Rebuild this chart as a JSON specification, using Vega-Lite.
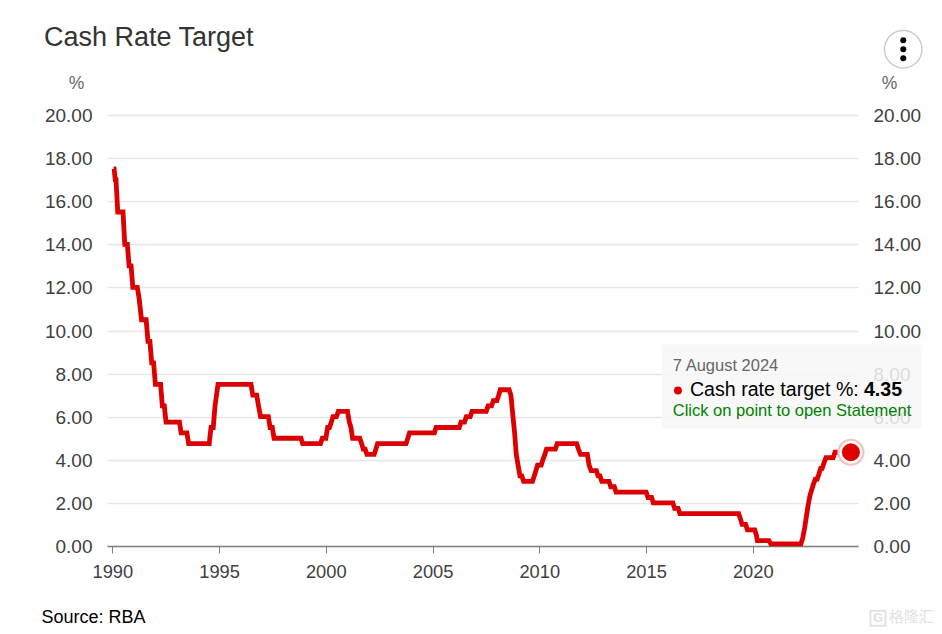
{
"$schema":"https://vega.github.io/schema/vega-lite/v6.json",
"autosize":{"type":"none"},
"width":751,"height":431,
"padding":{"left":107,"top":115,"right":84,"bottom":88},
"background":"white",
"config":{"font":"Liberation Sans","view":{"stroke":null}},
"title":{"text":"Cash Rate Target","anchor":"start","frame":"group","dx":-63,"dy":57,"offset":33,"fontSize":27,"fontWeight":"normal","color":"#333333"},
"resolve":{"scale":{"y":"independent"}},
"layer":[
{
"data":{"values":[
{"d":"1990-01-23","v":17.5},{"d":"1990-02-01","v":17.5},{"d":"1990-02-20","v":17.0},{"d":"1990-03-05","v":17.0},{"d":"1990-04-04","v":15.5},{"d":"1990-07-03","v":15.5},{"d":"1990-08-02","v":14.0},{"d":"1990-09-15","v":14.0},{"d":"1990-10-15","v":13.0},{"d":"1990-11-18","v":13.0},{"d":"1990-12-18","v":12.0},{"d":"1991-03-04","v":12.0},{"d":"1991-04-04","v":11.5},{"d":"1991-05-16","v":10.5},{"d":"1991-08-03","v":10.5},{"d":"1991-09-03","v":9.5},{"d":"1991-10-06","v":9.5},{"d":"1991-11-06","v":8.5},{"d":"1991-12-08","v":8.5},{"d":"1992-01-08","v":7.5},{"d":"1992-04-06","v":7.5},{"d":"1992-05-06","v":6.5},{"d":"1992-06-08","v":6.5},{"d":"1992-07-08","v":5.75},{"d":"1993-02-23","v":5.75},{"d":"1993-03-23","v":5.25},{"d":"1993-06-30","v":5.25},{"d":"1993-07-30","v":4.75},{"d":"1994-07-17","v":4.75},{"d":"1994-08-17","v":5.5},{"d":"1994-09-24","v":5.5},{"d":"1994-10-24","v":6.5},{"d":"1994-12-14","v":7.5},{"d":"1996-07-01","v":7.5},{"d":"1996-07-31","v":7.0},{"d":"1996-10-06","v":7.0},{"d":"1996-11-06","v":6.5},{"d":"1996-12-11","v":6.0},{"d":"1997-04-23","v":6.0},{"d":"1997-05-23","v":5.5},{"d":"1997-06-30","v":5.5},{"d":"1997-07-30","v":5.0},{"d":"1998-11-02","v":5.0},{"d":"1998-12-02","v":4.75},{"d":"1999-10-03","v":4.75},{"d":"1999-11-03","v":5.0},{"d":"2000-01-02","v":5.0},{"d":"2000-02-02","v":5.5},{"d":"2000-03-05","v":5.5},{"d":"2000-04-05","v":5.75},{"d":"2000-05-03","v":6.0},{"d":"2000-07-02","v":6.0},{"d":"2000-08-02","v":6.25},{"d":"2001-01-07","v":6.25},{"d":"2001-02-07","v":5.75},{"d":"2001-03-07","v":5.5},{"d":"2001-04-04","v":5.0},{"d":"2001-08-05","v":5.0},{"d":"2001-09-05","v":4.75},{"d":"2001-10-03","v":4.5},{"d":"2001-11-05","v":4.5},{"d":"2001-12-05","v":4.25},{"d":"2002-04-08","v":4.25},{"d":"2002-05-08","v":4.5},{"d":"2002-06-05","v":4.75},{"d":"2003-10-05","v":4.75},{"d":"2003-11-05","v":5.0},{"d":"2003-12-03","v":5.25},{"d":"2005-02-02","v":5.25},{"d":"2005-03-02","v":5.5},{"d":"2006-04-03","v":5.5},{"d":"2006-05-03","v":5.75},{"d":"2006-07-02","v":5.75},{"d":"2006-08-02","v":6.0},{"d":"2006-10-08","v":6.0},{"d":"2006-11-08","v":6.25},{"d":"2007-07-08","v":6.25},{"d":"2007-08-08","v":6.5},{"d":"2007-10-07","v":6.5},{"d":"2007-11-07","v":6.75},{"d":"2008-01-06","v":6.75},{"d":"2008-02-06","v":7.0},{"d":"2008-03-05","v":7.25},{"d":"2008-08-03","v":7.25},{"d":"2008-09-03","v":7.0},{"d":"2008-10-08","v":6.0},{"d":"2008-11-05","v":5.25},{"d":"2008-12-03","v":4.25},{"d":"2009-02-04","v":3.25},{"d":"2009-03-08","v":3.25},{"d":"2009-04-08","v":3.0},{"d":"2009-09-07","v":3.0},{"d":"2009-10-07","v":3.25},{"d":"2009-11-04","v":3.5},{"d":"2009-12-02","v":3.75},{"d":"2010-02-03","v":3.75},{"d":"2010-03-03","v":4.0},{"d":"2010-04-07","v":4.25},{"d":"2010-05-05","v":4.5},{"d":"2010-10-03","v":4.5},{"d":"2010-11-03","v":4.75},{"d":"2011-10-02","v":4.75},{"d":"2011-11-02","v":4.5},{"d":"2011-12-07","v":4.25},{"d":"2012-04-02","v":4.25},{"d":"2012-05-02","v":3.75},{"d":"2012-06-06","v":3.5},{"d":"2012-09-03","v":3.5},{"d":"2012-10-03","v":3.25},{"d":"2012-11-05","v":3.25},{"d":"2012-12-05","v":3.0},{"d":"2013-04-08","v":3.0},{"d":"2013-05-08","v":2.75},{"d":"2013-07-07","v":2.75},{"d":"2013-08-07","v":2.5},{"d":"2015-01-04","v":2.5},{"d":"2015-02-04","v":2.25},{"d":"2015-04-06","v":2.25},{"d":"2015-05-06","v":2.0},{"d":"2016-04-04","v":2.0},{"d":"2016-05-04","v":1.75},{"d":"2016-07-03","v":1.75},{"d":"2016-08-03","v":1.5},{"d":"2019-05-05","v":1.5},{"d":"2019-06-05","v":1.25},{"d":"2019-07-03","v":1.0},{"d":"2019-09-02","v":1.0},{"d":"2019-10-02","v":0.75},{"d":"2020-02-04","v":0.75},{"d":"2020-03-04","v":0.5},{"d":"2020-03-20","v":0.25},{"d":"2020-10-04","v":0.25},{"d":"2020-11-04","v":0.1},{"d":"2022-04-04","v":0.1},{"d":"2022-05-04","v":0.35},{"d":"2022-06-08","v":0.85},{"d":"2022-07-06","v":1.35},{"d":"2022-08-03","v":1.85},{"d":"2022-09-07","v":2.35},{"d":"2022-10-05","v":2.6},{"d":"2022-11-02","v":2.85},{"d":"2022-12-07","v":3.1},{"d":"2023-01-08","v":3.1},{"d":"2023-02-08","v":3.35},{"d":"2023-03-08","v":3.6},{"d":"2023-04-03","v":3.6},{"d":"2023-05-03","v":3.85},{"d":"2023-06-07","v":4.1},{"d":"2023-10-08","v":4.1},{"d":"2023-11-08","v":4.35},{"d":"2024-08-07","v":4.35}
]},
"mark":{"type":"line","color":"#dc0000","strokeWidth":4.8,"strokeJoin":"miter","interpolate":"linear"},
"encoding":{
"x":{"field":"d","type":"temporal","scale":{"domain":["1989-10-02","2024-12-06"],"nice":false},
"axis":{"format":"%Y","tickCount":{"interval":"year","step":5},"grid":false,"labelFontSize":18.3,"labelColor":"#404040","labelPadding":10,"tickSize":7,"tickColor":"#808080","tickWidth":1,"domainColor":"#808080","domainWidth":1.5,"labelFlush":false,"labelOverlap":false,
"title":"Source: RBA","titleFontSize":18,"titleFontWeight":"normal","titleColor":"#000000","titleX":-66,"titleY":62,"titleAlign":"left","titleAnchor":"start"}},
"y":{"field":"v","type":"quantitative","scale":{"domain":[0,20],"nice":false},
"axis":{"orient":"left","values":[0,2,4,6,8,10,12,14,16,18,20],"format":".2f","grid":true,"gridColor":"#e6e6e6","gridWidth":1.5,"domain":false,"ticks":false,"labelFontSize":19,"labelColor":"#404040","labelPadding":15,"labelOffset":0.5,
"title":"%","titleAngle":0,"titleFontSize":17.5,"titleFontWeight":"normal","titleColor":"#666666","titleX":-31,"titleY":-23,"titleAlign":"center"}}
}
},
{
"encoding":{
"y":{"field":"y","type":"quantitative","scale":{"domain":[0,20],"nice":false},
"axis":{"orient":"right","values":[0,2,4,6,8,10,12,14,16,18,20],"format":".2f","grid":false,"domain":false,"ticks":false,"labelFontSize":19,"labelColor":"#404040","labelPadding":15,"labelOffset":0.5,
"title":"%","titleAngle":0,"titleFontSize":17.5,"titleFontWeight":"normal","titleColor":"#666666","titleX":31,"titleY":-23,"titleAlign":"center"}}
},
"layer":[
{"data":{"values":[{"x":"2024-08-07","y":4.35}]},
 "mark":{"type":"point","filled":false,"fill":"white","fillOpacity":1,"stroke":"#f4c0c0","strokeWidth":2.2,"size":625,"opacity":1},
 "encoding":{"x":{"field":"x","type":"temporal"}}},
{"data":{"values":[{"x":"2024-08-07","y":4.35}]},
 "mark":{"type":"point","filled":true,"color":"#dc0000","size":324,"opacity":1},
 "encoding":{"x":{"field":"x","type":"temporal"}}},
{"data":{"values":[{"x":"2015-09-30","x2":"2027-12-01","y":9.35,"y2":5.44}]},
 "mark":{"type":"rect","color":"#f7f7f7","opacity":0.85},
 "encoding":{"x":{"field":"x","type":"temporal"},"x2":{"field":"x2"},"y2":{"field":"y2"}}},
{"data":{"values":[{"x":"2016-06-30","y":7.22}]},
 "mark":{"type":"point","filled":true,"color":"#dc0000","size":64,"opacity":1},
 "encoding":{"x":{"field":"x","type":"temporal"}}},
{"data":{"values":[{"x":"2016-04-03","y":8.37,"label":"7 August 2024"}]},
 "mark":{"type":"text","align":"left","baseline":"middle","fontSize":16.5,"color":"#666666"},
 "encoding":{"x":{"field":"x","type":"temporal"},"text":{"field":"label"}}},
{"data":{"values":[{"x":"2017-01-22","y":7.25,"label":"Cash rate target %:"}]},
 "mark":{"type":"text","align":"left","baseline":"middle","fontSize":19.6,"color":"#000000"},
 "encoding":{"x":{"field":"x","type":"temporal"},"text":{"field":"label"}}},
{"data":{"values":[{"x":"2025-03-17","y":7.25,"label":"4.35"}]},
 "mark":{"type":"text","align":"left","baseline":"middle","fontSize":19.6,"fontWeight":"bold","color":"#000000"},
 "encoding":{"x":{"field":"x","type":"temporal"},"text":{"field":"label"}}},
{"data":{"values":[{"x":"2016-04-03","y":6.25,"label":"Click on point to open Statement"}]},
 "mark":{"type":"text","align":"left","baseline":"middle","fontSize":16.5,"color":"#008000"},
 "encoding":{"x":{"field":"x","type":"temporal"},"text":{"field":"label"}}},
{"data":{"values":[{"x":"2027-01-19","y":23.05}]},
 "mark":{"type":"point","filled":true,"fill":"white","stroke":"#cccccc","strokeWidth":1.5,"size":1400,"opacity":1},
 "encoding":{"x":{"field":"x","type":"temporal"}}},
{"data":{"values":[{"x":"2027-01-19","y":23.47},{"x":"2027-01-19","y":23.05},{"x":"2027-01-19","y":22.63}]},
 "mark":{"type":"point","filled":true,"color":"#000000","size":36,"opacity":1},
 "encoding":{"x":{"field":"x","type":"temporal"}}},
{"data":{"values":[{"x":"2025-11-13","y":-3.35}]},
 "mark":{"type":"point","shape":"square","filled":false,"stroke":"#e2e2e2","strokeWidth":2,"size":225,"opacity":1},
 "encoding":{"x":{"field":"x","type":"temporal"}}},
{"data":{"values":[{"x":"2025-11-13","y":-3.35,"label":"G"}]},
 "mark":{"type":"text","align":"center","baseline":"middle","fontSize":13,"fontWeight":"bold","color":"#e2e2e2"},
 "encoding":{"x":{"field":"x","type":"temporal"},"text":{"field":"label"}}},
{"data":{"values":[{"x":"2026-05-18","y":-3.3,"label":"格隆汇"}]},
 "mark":{"type":"text","align":"left","baseline":"middle","fontSize":15,"font":"Noto Sans CJK SC","color":"#e2e2e2"},
 "encoding":{"x":{"field":"x","type":"temporal"},"text":{"field":"label"}}}
]
}
]
}
